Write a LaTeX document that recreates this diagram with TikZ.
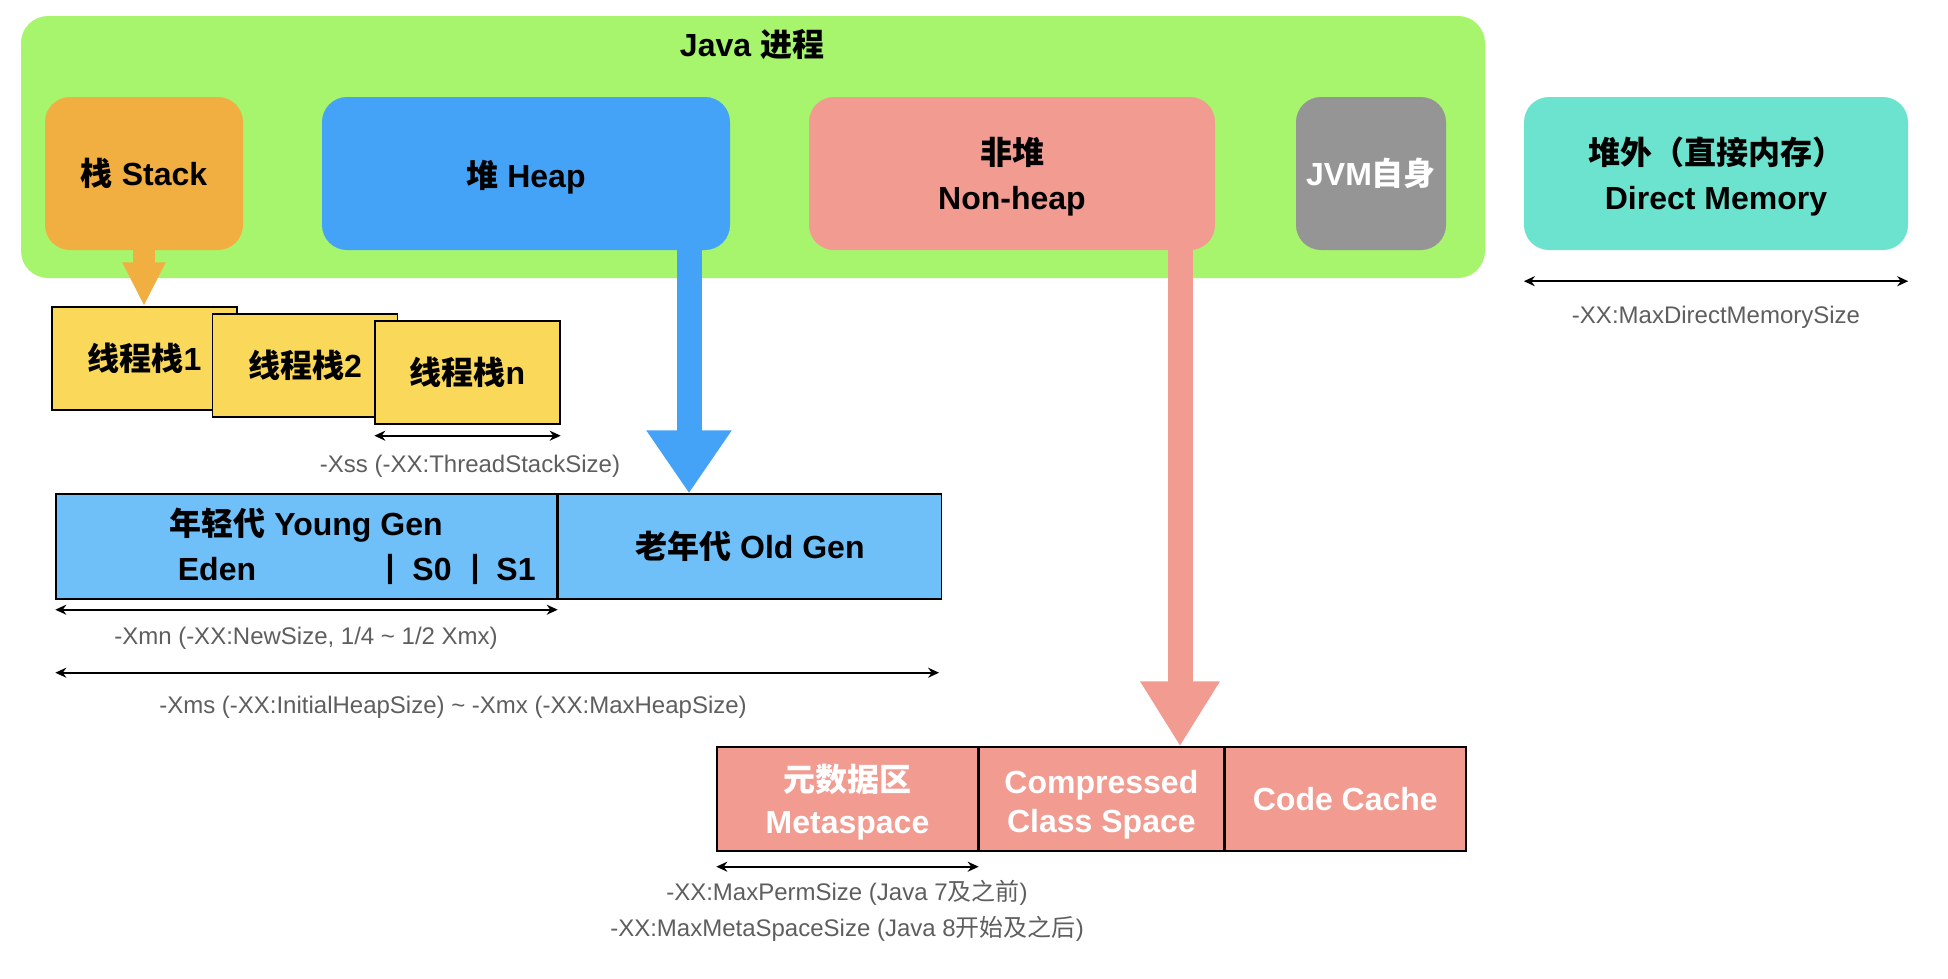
\documentclass[tikz,border=0pt]{standalone}
\usepackage{fontspec}
\setmainfont{Liberation Sans}
\newfontfamily\cjkfont{Noto Sans CJK SC}
\newcommand{\zh}[1]{{\cjkfont #1}}
\newcommand{\topstrut}{\rule{0pt}{34pt}}
\usetikzlibrary{arrows.meta}
\usetikzlibrary{positioning}

\definecolor{procgreen}{HTML}{A6F56C}
\definecolor{stackorange}{HTML}{F2AF41}
\definecolor{heapblue}{HTML}{44A3F7}
\definecolor{nonheapred}{HTML}{F19B91}
\definecolor{jvmgray}{HTML}{959595}
\definecolor{directteal}{HTML}{6CE3CE}
\definecolor{threadyellow}{HTML}{F9D85A}
\definecolor{genblue}{HTML}{6FBFF8}
\definecolor{hintgray}{HTML}{5E5E5E}

\tikzset{
  area/.style={rectangle, rounded corners=25pt, minimum height=153pt, inner sep=0pt,
    align=center, font=\bfseries\fontsize{32}{45}\selectfont},
  cell/.style={draw=black, line width=1.4pt, minimum height=104pt, inner sep=0pt,
    align=center, font=\bfseries\fontsize{32}{42}\selectfont},
  threadbox/.style={draw=black, line width=1.4pt, fill=threadyellow, minimum width=185pt,
    minimum height=103pt, inner sep=0pt, font=\bfseries\fontsize{32}{40}\selectfont},
  span/.style={{Stealth[length=11pt,width=10pt]}-{Stealth[length=11pt,width=10pt]}, line width=2.4pt},
  hint/.style={text=hintgray, inner sep=0pt, font=\fontsize{24}{30}\selectfont},
}

\begin{document}
\begin{tikzpicture}[x=1pt, y=-1pt]
  \useasboundingbox (0,0) rectangle (1948,978);

  % Java process
  \node[area, fill=procgreen, rounded corners=27pt, minimum width=1464pt, minimum height=262pt] (proc) at (753,147) {};
  \node[font=\bfseries\fontsize{32}{40}\selectfont] (title) at (752,45) {Java \zh{进程}};

  \node[area, fill=stackorange, minimum width=198pt] (stack) at (144,173.5) {\zh{栈} Stack};
  \node[area, fill=heapblue, minimum width=408pt, text depth=0pt] (heap) at (526,173.5) {\zh{堆} Heap};
  \node[area, fill=nonheapred, minimum width=406pt] (nonheap) at (1012,173.5) {\topstrut\zh{非堆}\\Non-heap};
  \node[area, fill=jvmgray, text=white, minimum width=150pt] (jvm) at (1371,173.5) {JVM\zh{自身}};
  \node[area, fill=directteal, minimum width=384pt] (direct) at (1716,173.5) {\topstrut\zh{堆外（直接内存）}\\Direct Memory};

  \draw[span] ([yshift=-31pt]direct.south west) -- ([yshift=-31pt]direct.south east);
  \node[hint] (directlbl) at (1716,317) {-XX:MaxDirectMemorySize};

  % thread stacks
  \node[threadbox] (thread1) at (144.5,358.5) {\zh{线程栈}1};
  \node[threadbox] (thread2) at (305,365.5) {\zh{线程栈}2};
  \node[threadbox] (threadn) at (467.5,372.5) {\zh{线程栈}n};
  \draw[span] ([yshift=-11pt]threadn.south west) -- ([yshift=-11pt]threadn.south east);
  \node[hint] (xsslbl) at (470,466) {-Xss (-XX:ThreadStackSize)};

  % heap generations
  \node[cell, fill=genblue, minimum width=501pt, minimum height=105pt] (young) at (306.5,546.5) {};
  \node[cell, fill=genblue, minimum width=383pt, minimum height=105pt, anchor=west] (old) at (young.east) {\zh{老年代} Old Gen};
  \node[font=\bfseries\fontsize{32}{40}\selectfont] (younglbl) at (306,525) {\zh{年轻代} Young Gen};
  \node[font=\bfseries\fontsize{32}{40}\selectfont] (eden) at (217,569) {Eden};
  \node[font=\bfseries\fontsize{32}{40}\selectfont] (bar1) at (390,569) {|};
  \node[font=\bfseries\fontsize{32}{40}\selectfont] (s0) at (432,569) {S0};
  \node[font=\bfseries\fontsize{32}{40}\selectfont] (bar2) at (475,569) {|};
  \node[font=\bfseries\fontsize{32}{40}\selectfont] (s1) at (516,569) {S1};

  \draw[span] ([yshift=-10pt]young.south west) -- ([yshift=-10pt]young.south east);
  \node[hint] (xmnlbl) at (306,638) {-Xmn (-XX:NewSize, 1/4 \textasciitilde{} 1/2 Xmx)};
  \draw[span] ([yshift=-73pt]young.south west) -- ([yshift=-73pt,xshift=-3pt]old.south east);
  \node[hint] (xmslbl) at (453,707) {-Xms (-XX:InitialHeapSize) \textasciitilde{} -Xmx (-XX:MaxHeapSize)};

  % non-heap parts
  \node[cell, fill=nonheapred, text=white, minimum width=261pt] (meta) at (847.5,799) {\topstrut\zh{元数据区}\\Metaspace};
  \node[cell, fill=nonheapred, text=white, minimum width=244pt, anchor=west, font=\bfseries\fontsize{32}{39}\selectfont] (ccs) at (meta.east) {\topstrut Compressed\\Class Space};
  \node[cell, fill=nonheapred, text=white, minimum width=241pt, anchor=west] (codecache) at (ccs.east) {Code Cache};

  \draw[span] ([yshift=-15pt]meta.south west) -- ([yshift=-15pt]meta.south east);
  \node[hint] (permlbl) at (847,893) {-XX:MaxPermSize (Java 7\zh{及之前})};
  \node[hint] (metalbl) at (847,929) {-XX:MaxMetaSpaceSize (Java 8\zh{开始及之后})};

  % big arrows
  \draw[stackorange, line width=22pt, -{Triangle[width=40pt,length=44pt]}] (stack.south) -- (thread1.north -| stack.south);
  \draw[heapblue, line width=25pt, -{Triangle[width=81pt,length=63pt]}] (heap.south -| 689,0) -- (old.north -| 689,0);
  \draw[nonheapred, line width=25pt, -{Triangle[width=75pt,length=65pt]}] (nonheap.south -| 1180,0) -- (ccs.north -| 1180,0);
\end{tikzpicture}
\end{document}
